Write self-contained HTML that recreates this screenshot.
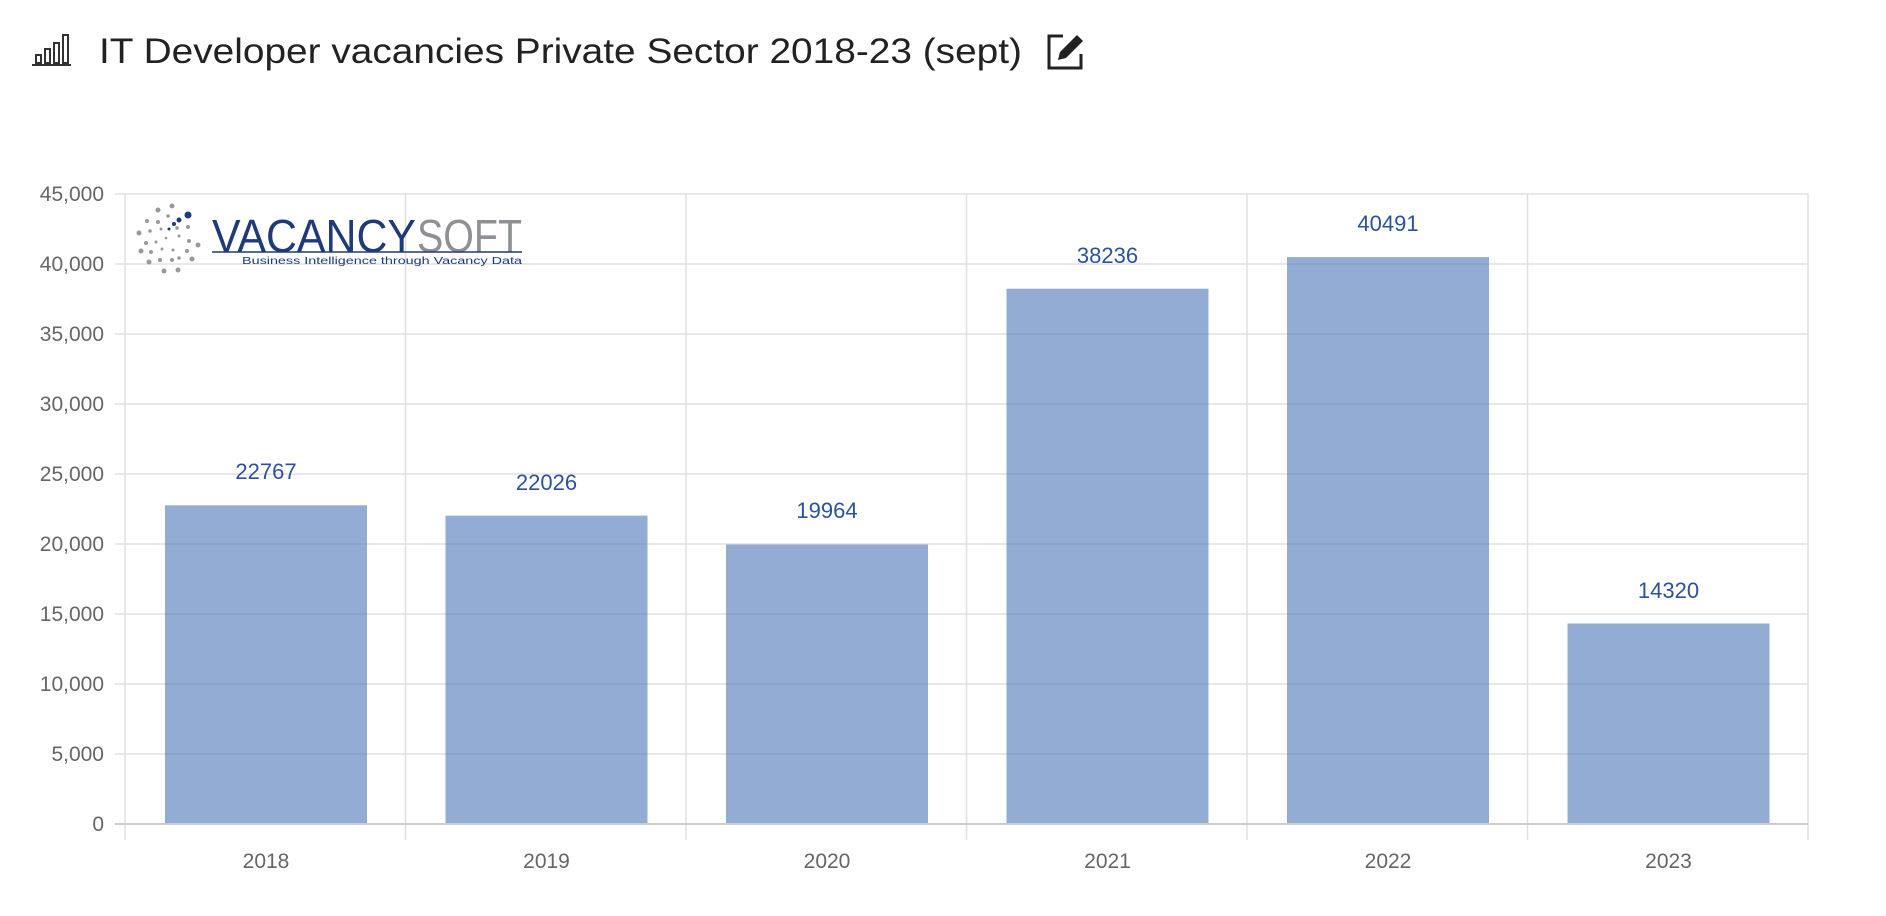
<!DOCTYPE html>
<html><head><meta charset="utf-8"><style>
html,body{margin:0;padding:0;background:#fff;width:1886px;height:916px;overflow:hidden}
</style></head><body>
<svg width="1886" height="916" xmlns="http://www.w3.org/2000/svg" font-family="Liberation Sans, sans-serif">
<g fill="none" stroke="#333" stroke-width="2">
<rect x="36" y="55" width="5" height="8"/><rect x="45" y="49" width="5" height="14"/><rect x="54" y="43" width="5" height="20"/><rect x="63" y="35" width="5" height="28"/>
<line x1="32" y1="65" x2="71" y2="65"/>
</g>
<text x="99" y="63" font-size="35" fill="#222" textLength="923" lengthAdjust="spacingAndGlyphs">IT Developer vacancies Private Sector 2018-23 (sept)</text>
<g fill="none" stroke="#222" stroke-width="3">
<path d="M1063 36 H1049 V68 H1081 V54"/>
</g>
<path d="M1058 60 L1060 52 L1077 35 L1083 41 L1066 58 Z" fill="#222"/>
<g stroke="#e0e0e0" stroke-width="1.5">
<line x1="115" y1="194" x2="1808" y2="194"/>
<line x1="115" y1="264" x2="1808" y2="264"/>
<line x1="115" y1="334" x2="1808" y2="334"/>
<line x1="115" y1="404" x2="1808" y2="404"/>
<line x1="115" y1="474" x2="1808" y2="474"/>
<line x1="115" y1="544" x2="1808" y2="544"/>
<line x1="115" y1="614" x2="1808" y2="614"/>
<line x1="115" y1="684" x2="1808" y2="684"/>
<line x1="115" y1="754" x2="1808" y2="754"/>
<line x1="125" y1="194" x2="125" y2="840"/>
<line x1="405.5" y1="194" x2="405.5" y2="840"/>
<line x1="686" y1="194" x2="686" y2="840"/>
<line x1="966.5" y1="194" x2="966.5" y2="840"/>
<line x1="1247" y1="194" x2="1247" y2="840"/>
<line x1="1527.5" y1="194" x2="1527.5" y2="840"/>
<line x1="1808" y1="194" x2="1808" y2="840"/>
</g>
<g transform="translate(6,0)">
<g fill="#999">
<circle cx="152" cy="210" r="2.5"/><circle cx="166" cy="206" r="2.5"/><circle cx="141" cy="221" r="2"/><circle cx="152" cy="222" r="2"/><circle cx="162" cy="216" r="1.8"/>
<circle cx="133" cy="233" r="2.5"/><circle cx="144" cy="231" r="1.8"/><circle cx="155" cy="229" r="1.5"/><circle cx="171" cy="228" r="1.8"/><circle cx="182" cy="227" r="2"/>
<circle cx="140" cy="243" r="2"/><circle cx="150" cy="242" r="1.5"/><circle cx="160" cy="238" r="1.3"/><circle cx="173" cy="236" r="1.5"/><circle cx="183" cy="241" r="2"/><circle cx="192" cy="245" r="2.5"/>
<circle cx="135" cy="251" r="2.5"/><circle cx="145" cy="252" r="2"/><circle cx="156" cy="249" r="1.5"/><circle cx="167" cy="250" r="1.5"/><circle cx="181" cy="251" r="2"/>
<circle cx="143" cy="262" r="2.5"/><circle cx="154" cy="260" r="2"/><circle cx="166" cy="260" r="2"/><circle cx="173" cy="258" r="1.8"/><circle cx="186" cy="259" r="2.5"/>
<circle cx="158" cy="271" r="2.5"/><circle cx="172" cy="270" r="2.5"/>
</g>
<g fill="#1e3a78"><circle cx="182" cy="215" r="3.5"/><circle cx="173" cy="220" r="2.5"/><circle cx="168" cy="224" r="2"/><circle cx="163" cy="229" r="1.5"/></g>
</g>
<text x="212" y="252" font-size="46" fill="#1e3a78" textLength="204" lengthAdjust="spacingAndGlyphs">VACANCY</text>
<text x="417" y="252" font-size="46" fill="#8e9095" textLength="105" lengthAdjust="spacingAndGlyphs">SOFT</text>
<line x1="212" y1="252" x2="522" y2="252" stroke="#1e3a78" stroke-width="1.5"/>
<text x="242" y="264" font-size="10" fill="#1e3a78" textLength="280" lengthAdjust="spacingAndGlyphs">Business Intelligence through Vacancy Data</text>
<g fill="#4a74b8" fill-opacity="0.6">
<rect x="165" y="505.3" width="202" height="318.7"/>
<rect x="445.5" y="515.6" width="202" height="308.4"/>
<rect x="726" y="544.5" width="202" height="279.5"/>
<rect x="1006.5" y="288.7" width="202" height="535.3"/>
<rect x="1287" y="257.1" width="202" height="566.9"/>
<rect x="1567.5" y="623.5" width="202" height="200.5"/>
</g>
<line x1="115" y1="824" x2="1808" y2="824" stroke="#ccc" stroke-width="2"/>
<g font-size="22" fill="#2b52a0" text-anchor="middle">
<text x="266" y="479">22767</text>
<text x="546.5" y="490">22026</text>
<text x="827" y="518">19964</text>
<text x="1107.5" y="263">38236</text>
<text x="1388" y="231">40491</text>
<text x="1668.5" y="598">14320</text>
</g>
<g font-size="21" fill="#666" text-anchor="end">
<text x="104" y="201">45,000</text>
<text x="104" y="271">40,000</text>
<text x="104" y="341">35,000</text>
<text x="104" y="411">30,000</text>
<text x="104" y="481">25,000</text>
<text x="104" y="551">20,000</text>
<text x="104" y="621">15,000</text>
<text x="104" y="691">10,000</text>
<text x="104" y="761">5,000</text>
<text x="104" y="831">0</text>
</g>
<g font-size="21" fill="#666" text-anchor="middle">
<text x="266" y="868">2018</text>
<text x="546.5" y="868">2019</text>
<text x="827" y="868">2020</text>
<text x="1107.5" y="868">2021</text>
<text x="1388" y="868">2022</text>
<text x="1668.5" y="868">2023</text>
</g>
</svg>
</body></html>
